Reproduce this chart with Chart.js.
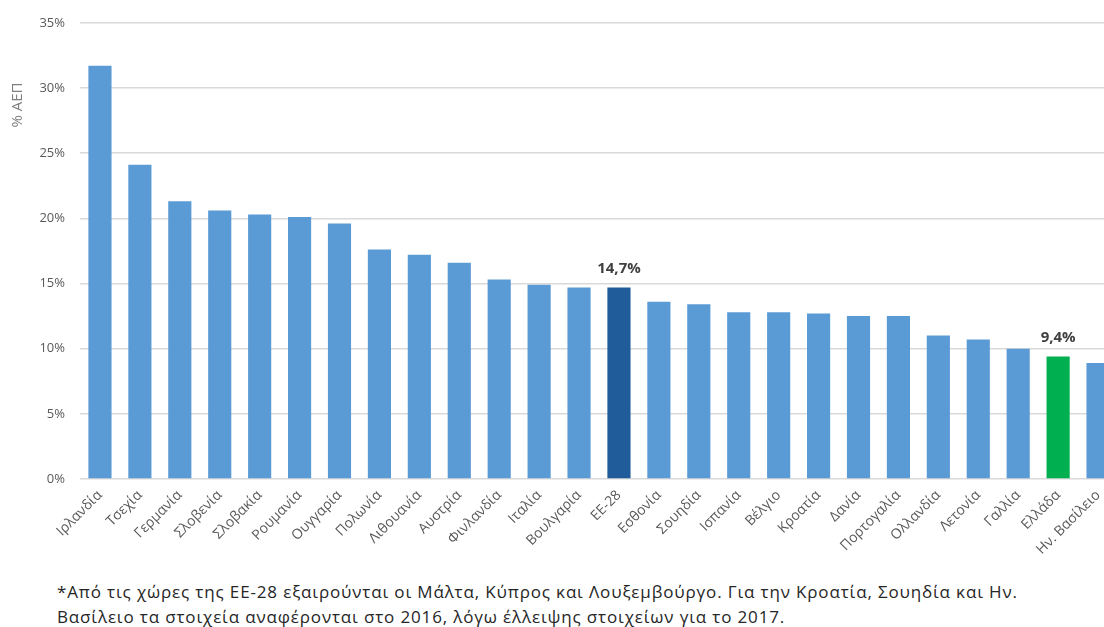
<!DOCTYPE html>
<html><head><meta charset="utf-8">
<script src="https://cdn.jsdelivr.net/npm/chart.js@4.4.1/dist/chart.umd.min.js"></script>
<style>
html,body{margin:0;padding:0;background:#fff;overflow:hidden;width:1104px;height:627px;position:relative}
#wrap{position:absolute;left:0;top:0;width:1118px;height:575px}
#note{position:absolute;left:57px;top:579px;font-family:'Open Sans',sans-serif;font-size:17px;letter-spacing:0.85px;line-height:25px;color:#262626;white-space:nowrap}
</style></head><body>
<div id="wrap"><canvas id="c" width="1118" height="575"></canvas></div>
<div id="note">*Από τις χώρες της ΕΕ-28 εξαιρούνται οι Μάλτα, Κύπρος και Λουξεμβούργο. Για την Κροατία, Σουηδία και Ην.<br>Βασίλειο τα στοιχεία αναφέρονται στο 2016, λόγω έλλειψης στοιχείων για το 2017.</div>
<script>
const categories = ['Ιρλανδία','Τσεχία','Γερμανία','Σλοβενία','Σλοβακία','Ρουμανία','Ουγγαρία','Πολωνία','Λιθουανία','Αυστρία','Φινλανδία','Ιταλία','Βουλγαρία','ΕΕ-28','Εσθονία','Σουηδία','Ισπανία','Βέλγιο','Κροατία','Δανία','Πορτογαλία','Ολλανδία','Λετονία','Γαλλία','Ελλάδα','Ην. Βασίλειο'];
const values = [31.7,24.1,21.3,20.6,20.3,20.1,19.6,17.6,17.2,16.6,15.3,14.9,14.7,14.7,13.6,13.4,12.8,12.8,12.7,12.5,12.5,11.0,10.7,10.0,9.4,8.9];
const valueLabels = {'ΕΕ-28':'14,7%','Ελλάδα':'9,4%'};
const yTickValues = [0,5,10,15,20,25,30,35];
const yTitle = '% ΑΕΠ';

const barColors = categories.map(c => c === 'ΕΕ-28' ? '#1F5C99' : (c === 'Ελλάδα' ? '#00B050' : '#5B9BD5'));

const valueLabelPlugin = {
  id:'valueLabels',
  afterDatasetsDraw(chart){
    const ctx = chart.ctx;
    const meta = chart.getDatasetMeta(0);
    ctx.save();
    ctx.font = 'bold 15px "Open Sans"';
    ctx.fillStyle = '#404040';
    ctx.textAlign = 'center';
    ctx.textBaseline = 'middle';
    categories.forEach((c,i)=>{
      if(valueLabels[c]){
        const el = meta.data[i];
        ctx.fillText(valueLabels[c], el.x, el.y - 19);
      }
    });
    ctx.restore();
  }
};
const yTitlePlugin = {
  id:'yTitle',
  afterDraw(chart){
    const ctx = chart.ctx;
    ctx.save();
    ctx.translate(18, 105);
    ctx.rotate(-Math.PI/2);
    ctx.font = '15px "Open Sans"';
    ctx.fillStyle = '#7F7F7F';
    ctx.textAlign = 'center';
    ctx.textBaseline = 'middle';
    ctx.fillText(yTitle, 0, 0);
    ctx.restore();
  }
};

new Chart(document.getElementById('c'), {
  type:'bar',
  data:{labels:categories, datasets:[{data:values, backgroundColor:barColors, categoryPercentage:1, barPercentage:0.58}]},
  options:{
    responsive:false, animation:false, devicePixelRatio:1,
    layout:{padding:{top:21,left:0,right:0,bottom:0}},
    plugins:{legend:{display:false}, tooltip:{enabled:false}},
    scales:{
      x:{
        grid:{display:false}, border:{display:false},
        ticks:{color:'#595959', font:{family:'Open Sans', size:14}, minRotation:45, maxRotation:45, autoSkip:false, padding:0},
        afterFit(s){ s.height = 96; }
      },
      y:{
        min:0, max:35,
        afterBuildTicks(s){ s.ticks = yTickValues.map(v=>({value:v})); },
        grid:{color:'#D9D9D9', lineWidth:1.5, drawTicks:false}, border:{display:false},
        ticks:{color:'#595959', font:{family:'Open Sans', size:13}, padding:15, callback:v=>v+'%'},
        afterFit(s){ s.width = 80; }
      }
    }
  },
  plugins:[valueLabelPlugin, yTitlePlugin]
});
</script>
</body></html>
